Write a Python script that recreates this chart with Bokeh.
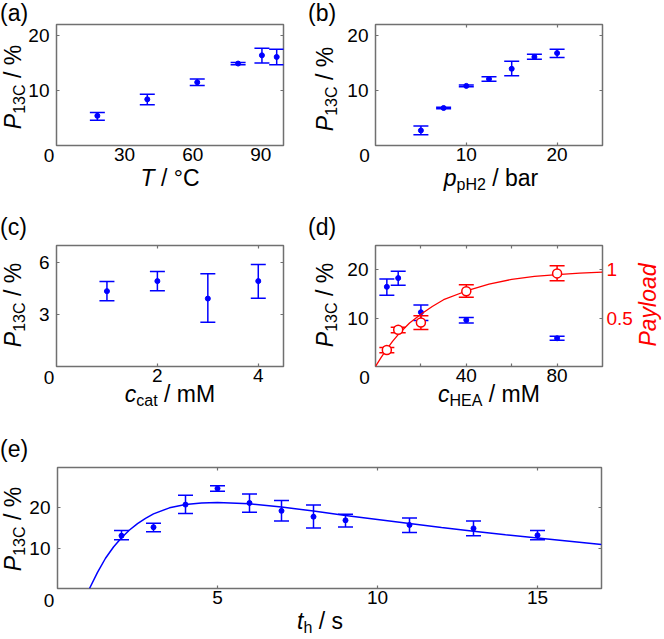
from bokeh.plotting import figure
from bokeh.models import (ColumnDataSource, Whisker, TeeHead, LinearAxis,
                          Range1d, FixedTicker, Div)
from bokeh.layouts import column, row
from bokeh.embed import file_html
from bokeh.resources import INLINE

# ---------------- data ----------------
# (a) temperature
a_T = [18, 40, 62, 80, 90.5, 97]
a_P = [5.4, 8.4, 11.5, 14.9, 16.4, 16.1]
a_lo = [4.6, 7.4, 10.9, 14.7, 15.0, 14.7]
a_hi = [6.0, 9.3, 12.1, 15.1, 17.7, 17.5]
a_xticks = [30, 60, 90]
a_yticks = [10, 20]

# (b) pH2 pressure
b_p = [5, 7.5, 10, 12.5, 15, 17.5, 20]
b_P = [2.74, 6.82, 10.84, 12.1, 13.95, 16.1, 16.8]
b_lo = [1.95, 6.67, 10.69, 11.7, 12.7, 15.7, 16.0]
b_hi = [3.53, 6.97, 10.99, 12.5, 15.3, 16.6, 17.5]
b_xticks = [10, 20]
b_yticks = [10, 20]

# (c) catalyst concentration
c_c = [1, 2, 3, 4]
c_P = [4.36, 4.94, 3.93, 4.94]
c_lo = [3.8, 4.38, 2.56, 3.95]
c_hi = [4.92, 5.5, 5.37, 5.9]
c_xticks = [2, 4]
c_yticks = [3, 6]

# (d) HEA concentration
d_c = [5, 10, 20, 40, 80]
d_P = [16.46, 18.27, 11.2, 9.6, 5.83]
d_lo = [14.7, 16.8, 9.5, 9.0, 5.4]
d_hi = [18.1, 19.7, 12.7, 10.1, 6.25]
d_pay = [0.171, 0.379, 0.455, 0.778, 0.962]
d_pay_lo = [0.143, 0.348, 0.382, 0.716, 0.885]
d_pay_hi = [0.195, 0.406, 0.525, 0.844, 1.04]
d_fit_x = [0, 2.5, 5, 7.5, 10, 15, 20, 25, 30, 40, 50, 60, 70, 80, 90, 100]
d_fit_y = [0, 0.095, 0.18, 0.26, 0.33, 0.45, 0.54, 0.62, 0.69, 0.78, 0.85,
           0.90, 0.93, 0.95, 0.965, 0.975]
d_xticks = [20, 40, 60, 80]
d_xlabels = {20: "", 40: "40", 60: "", 80: "80"}
d_yticks = [10, 20]
d_y2ticks = [0.5, 1]
d_y2labels = {0.5: "0.5", 1: "1"}

# (e) hold time
e_t = [2, 3, 4, 5, 6, 7, 8, 9, 11, 13, 15]
e_P = [13.1, 15.2, 20.8, 24.8, 21.2, 19.25, 17.8, 16.9, 15.75, 14.9, 13.2]
e_lo = [12.1, 14.1, 18.6, 24.1, 18.9, 16.75, 15.0, 15.25, 13.9, 13.1, 12.1]
e_hi = [14.35, 16.2, 23.1, 25.5, 23.4, 21.8, 20.7, 18.4, 17.5, 16.75, 14.35]
e_fit_x = [1.0, 1.25, 1.5, 1.75, 2.0, 2.25, 2.5, 2.75, 3.0, 3.5, 4.0, 4.5, 5.0,
           6.0, 7.0, 8.0, 9.0, 10, 11, 12, 13, 14, 15, 16, 17]
e_fit_y = [0, 4.0, 7.5, 10.3, 12.6, 14.5, 16.1, 17.4, 18.5, 20.0, 20.8, 21.2,
           21.3, 21.0, 20.2, 19.2, 18.1, 17.1, 16.1, 15.1, 14.2, 13.3, 12.5,
           11.7, 10.9]
e_xticks = [5, 10, 15]
e_yticks = [10, 20]

# ---------------- styling ----------------
FONT = "Liberation Sans"
FONT_CSS = "'Liberation Sans', Arial, sans-serif"
GRAY = "#707070"
BLUE = "#0000ff"
RED = "#ff0000"
TICK_FS = 19
LAB_FS = 23
SUB_FS = 16
SUB_SHIFT = 4
ASC = 0.8465
TOTAL_H = 639


def style_axis(ax, ticks, show=True, overrides=None, color="black", standoff=3):
    ax.ticker = FixedTicker(ticks=ticks)
    ax.axis_line_color = None
    ax.major_tick_line_color = GRAY
    ax.major_tick_line_width = 1.2
    ax.major_tick_in = 3
    ax.major_tick_out = 0
    ax.minor_tick_line_color = None
    ax.major_label_text_font = FONT
    ax.major_label_text_font_size = f"{TICK_FS}px"
    ax.major_label_text_color = color
    ax.major_label_standoff = standoff
    if not show:
        ax.major_label_overrides = {t: "" for t in ticks}
        ax.major_label_text_font_size = "1px"
        ax.major_label_standoff = 0
    elif overrides:
        ax.major_label_overrides = overrides


def make_fig(xr, yr, fw, fh, bl, br, bt, bb, xt, yt, mirror_right=True,
             xover=None, x_tick_in=True):
    p = figure(x_range=Range1d(*xr), y_range=Range1d(*yr),
               frame_width=fw, frame_height=fh,
               min_border_left=bl, min_border_right=br,
               min_border_top=bt, min_border_bottom=bb,
               output_backend="svg", toolbar_location=None, tools="")
    p.grid.visible = False
    p.outline_line_color = GRAY
    p.outline_line_width = 1.5
    p.background_fill_color = "white"
    p.border_fill_color = "white"
    style_axis(p.xaxis[0], xt, overrides=xover, standoff=2)
    if not x_tick_in:
        p.xaxis[0].major_tick_in = 0
    style_axis(p.yaxis[0], yt, standoff=7)
    top = LinearAxis()
    style_axis(top, xt, show=False)
    if not x_tick_in:
        top.major_tick_in = 0
    p.add_layout(top, "above")
    if mirror_right:
        right = LinearAxis()
        style_axis(right, yt, show=False)
        p.add_layout(right, "right")
    return p


def errbars(p, x, lo, hi, color, yname="default"):
    src = ColumnDataSource(dict(x=x, lo=lo, hi=hi))
    w = Whisker(source=src, base="x", lower="lo", upper="hi", dimension="height",
                line_color=color, line_width=1.5, level="underlay",
                upper_head=TeeHead(size=15, line_color=color, line_width=1.5),
                lower_head=TeeHead(size=15, line_color=color, line_width=1.5),
                y_range_name=yname)
    p.add_layout(w)


# ---------------- HTML text overlay (axis labels with sub-scripts) ----------
def pieces_html(pieces):
    out = ""
    for t, s, it, sub in pieces:
        st = f"font-size:{s}px;"
        if it:
            st += "font-style:italic;"
        if sub:
            st += f"position:relative;top:{SUB_SHIFT}px;line-height:0;"
        out += f'<span style="{st}">{t}</span>'
    return out


def html_h(pieces, x, by, fs=LAB_FS, center=True, color="black"):
    tx = "-50%" if center else "0"
    return (f'<div style="position:absolute;left:{x}px;top:{by}px;white-space:nowrap;'
            f"font-family:{FONT_CSS};font-size:{fs}px;line-height:{fs}px;color:{color};"
            f'transform:translate({tx},-{ASC * fs:.2f}px);">{pieces_html(pieces)}</div>')


def html_v(pieces, bx, cy, fs=LAB_FS, color="black"):
    return (f'<div style="position:absolute;left:{bx}px;top:{cy}px;white-space:nowrap;'
            f"font-family:{FONT_CSS};font-size:{fs}px;line-height:{fs}px;color:{color};"
            f"transform-origin:0 0;"
            f'transform:rotate(-90deg) translate(-50%,-{ASC * fs:.2f}px);">'
            f"{pieces_html(pieces)}</div>")


def plain(t, fs=LAB_FS):
    return [(t, fs, False, False)]


P13C = [("P", LAB_FS, True, False), ("13C", SUB_FS, False, True),
        (" / %", LAB_FS, False, False)]

FW, FH = 227, 121

# (a)
pa = make_fig((0, 100), (0, 22), FW, FH, 56, 17, 24, 55, a_xticks, a_yticks,
              x_tick_in=False)
errbars(pa, a_T, a_lo, a_hi, BLUE)
pa.scatter(a_T, a_P, size=5, color=BLUE)

# (b)
pb = make_fig((0, 25), (0, 22), FW, FH, 75, 62, 24, 55, b_xticks, b_yticks)
errbars(pb, b_p, b_lo, b_hi, BLUE)
pb.scatter(b_p, b_P, size=5, color=BLUE)

# (c)
pc = make_fig((0, 4.5), (0, 7), FW, FH, 56, 17, 45, 54, c_xticks, c_yticks)
errbars(pc, c_c, c_lo, c_hi, BLUE)
pc.scatter(c_c, c_P, size=5, color=BLUE)

# (d)
pd = make_fig((0, 100), (0, 25), FW, FH, 75, 62, 45, 54, d_xticks, d_yticks,
              mirror_right=False, xover=d_xlabels)
pd.extra_y_ranges = {"payload": Range1d(0, 1.25)}
ax2 = LinearAxis(y_range_name="payload")
style_axis(ax2, d_y2ticks, overrides=d_y2labels, color=RED, standoff=4)
pd.add_layout(ax2, "right")
errbars(pd, d_c, d_lo, d_hi, BLUE)
pd.scatter(d_c, d_P, size=5, color=BLUE)
pd.line(d_fit_x, d_fit_y, color=RED, line_width=1.3, y_range_name="payload")
errbars(pd, d_c, d_pay_lo, d_pay_hi, RED, yname="payload")
pd.scatter(d_c, d_pay, size=9, fill_color="white", line_color=RED, line_width=1.5,
           y_range_name="payload")

# (e)
pe = make_fig((0, 17), (0, 30), 544, FH, 57, 63, 47, 51, e_xticks, e_yticks)
errbars(pe, e_t, e_lo, e_hi, BLUE)
pe.scatter(e_t, e_P, size=5, color=BLUE)
pe.line(e_fit_x, e_fit_y, color=BLUE, line_width=1.5)

texts = [
    # panel letters
    html_h(plain("(a)"), 0, 21, center=False),
    html_h(plain("(b)"), 308, 21, center=False),
    html_h(plain("(c)"), 0, 235, center=False),
    html_h(plain("(d)"), 308, 235, center=False),
    html_h(plain("(e)"), 0, 457, center=False),
    # x-axis labels
    html_h([("T", LAB_FS, True, False), (" / °C", LAB_FS, False, False)], 170, 186),
    html_h([("p", LAB_FS, True, False), ("pH2", SUB_FS, False, True),
            (" / bar", LAB_FS, False, False)], 491, 186),
    html_h([("c", LAB_FS, True, False), ("cat", SUB_FS, False, True),
            (" / mM", LAB_FS, False, False)], 170, 402),
    html_h([("c", LAB_FS, True, False), ("HEA", SUB_FS, False, True),
            (" / mM", LAB_FS, False, False)], 489, 402),
    html_h([("t", LAB_FS, True, False), ("h", SUB_FS, False, True),
            (" / s", LAB_FS, False, False)], 320, 629),
    # y-axis labels
    html_v(P13C, 21, 87),
    html_v(P13C, 333, 89),
    html_v(P13C, 21, 305),
    html_v(P13C, 333, 305),
    html_v(P13C, 21, 529),
    html_v([("Payload", LAB_FS, True, False)], 656, 305, color=RED),
    # shared origin "0" labels
    html_h(plain("0", TICK_FS), 49, 162, fs=TICK_FS),
    html_h(plain("0", TICK_FS), 364.5, 162, fs=TICK_FS),
    html_h(plain("0", TICK_FS), 49, 384, fs=TICK_FS),
    html_h(plain("0", TICK_FS), 364.5, 384, fs=TICK_FS),
    html_h(plain("0", TICK_FS), 49, 607, fs=TICK_FS),
]
overlay = Div(
    text=(f'<div style="position:relative;top:-{TOTAL_H}px;width:0;height:0;'
          f'font-size:0;line-height:0;">' + "".join(texts) + "</div>"),
    width=0, height=0, margin=0,
    styles={"overflow": "visible", "font-size": "0px", "line-height": "0px"},
    stylesheets=[":host{overflow:visible !important;font-size:0 !important;"
                 "line-height:0 !important;} "
                 ".bk-clearfix{overflow:visible !important;display:block !important;}"],
)

layout = column(row(pa, pb), row(pc, pd), pe, overlay)
open("out.html", "w").write(file_html(layout, INLINE))
